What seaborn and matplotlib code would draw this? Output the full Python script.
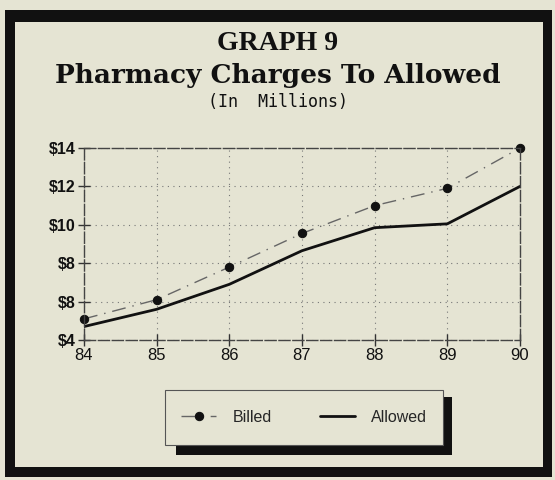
import matplotlib
matplotlib.use("Agg")
import matplotlib.pyplot as plt
import seaborn as sns
import pandas as pd
from matplotlib.patches import Rectangle

years = [84, 85, 86, 87, 88, 89, 90]
billed = [5.1, 6.1, 7.8, 9.55, 11.0, 11.9, 14.0]
allowed = [4.7, 5.6, 6.9, 8.65, 9.85, 10.05, 12.0]
y_ticks = [4, 6, 8, 10, 12, 14]
y_tick_labels = ["$4", "$8", "$8", "$10", "$12", "$14"]
x_tick_labels = ["84", "85", "86", "87", "88", "89", "90"]

bg = "#e5e4d3"
ink = "#111111"
sns.set_theme(style="ticks")
plt.rcParams["font.family"] = ["Liberation Sans", "DejaVu Sans"]

fig = plt.figure(figsize=(5.55, 4.8), dpi=100, facecolor=bg)
W, H = 555, 480

def box(x0, y0, x1, y1, **kw):
    """pixel box (top-left origin) -> figure rectangle"""
    fig.patches.append(Rectangle((x0 / W, 1 - y1 / H), (x1 - x0) / W, (y1 - y0) / H,
                                 transform=fig.transFigure, **kw))

# outer frame
box(5, 10, 552, 22, facecolor=ink, edgecolor="none")
box(5, 10, 15, 477, facecolor=ink, edgecolor="none")
box(543, 10, 552, 477, facecolor=ink, edgecolor="none")
box(5, 467, 552, 477, facecolor=ink, edgecolor="none")

ax = fig.add_axes([84 / W, 1 - 340 / H, (520 - 84) / W, (340 - 148) / H])
ax.set_facecolor(bg)

df = pd.DataFrame({"year": years, "Billed": billed, "Allowed": allowed})
sns.lineplot(data=df, x="year", y="Billed", ax=ax, color="#666666", linewidth=1.0,
             linestyle=(0, (10, 5, 1, 5)), marker="o", markersize=6,
             markerfacecolor=ink, markeredgecolor=ink, label="Billed", clip_on=False)
sns.lineplot(data=df, x="year", y="Allowed", ax=ax, color=ink, linewidth=2.0,
             label="Allowed")

ax.set_xlim(84, 90)
ax.set_ylim(4, 14)
ax.set_xticks(years)
ax.set_xticklabels(x_tick_labels)
ax.set_yticks(y_ticks)
ax.set_yticklabels(y_tick_labels)
ax.set_xlabel("")
ax.set_ylabel("")
ax.grid(True, linestyle=(0, (1, 4)), color="#777777", linewidth=0.8)
for s in ax.spines.values():
    s.set_color("#444444")
    s.set_linewidth(1.0)
    s.set_linestyle((0, (8, 2)))
ax.tick_params(axis="both", direction="inout", length=8, width=1, colors="#333333",
               labelcolor=ink)
ax.tick_params(axis="y", labelsize=11.5, pad=2)
ax.tick_params(axis="x", labelsize=12, pad=2)
for lab in ax.get_yticklabels():
    lab.set_fontweight("bold")

ax.get_legend().remove()
# legend box with shadow
box(176, 397, 452, 455, facecolor=ink, edgecolor="none")
box(165, 390, 443, 445, facecolor=bg, edgecolor="#555555", linewidth=0.8)
leg = fig.legend(loc="center", bbox_to_anchor=(304 / W, 1 - 417 / H), ncol=2,
                 frameon=False, fontsize=11.5, handlelength=2.2, columnspacing=3.0,
                 handletextpad=1.0)

fig.text(0.5, 1 - 43 / H, "GRAPH 9", ha="center", va="center", fontsize=20,
         fontweight="bold", family=["Liberation Serif", "DejaVu Serif"], color=ink)
fig.text(0.5, 1 - 75 / H, "Pharmacy Charges To Allowed", ha="center", va="center",
         fontsize=19, fontweight="bold", family=["DejaVu Serif"], color=ink)
fig.text(0.5, 1 - 102 / H, "(In  Millions)", ha="center", va="center", fontsize=12,
         family=["DejaVu Sans Mono"], color=ink)

fig.savefig("out.png", dpi=100, facecolor=bg)
